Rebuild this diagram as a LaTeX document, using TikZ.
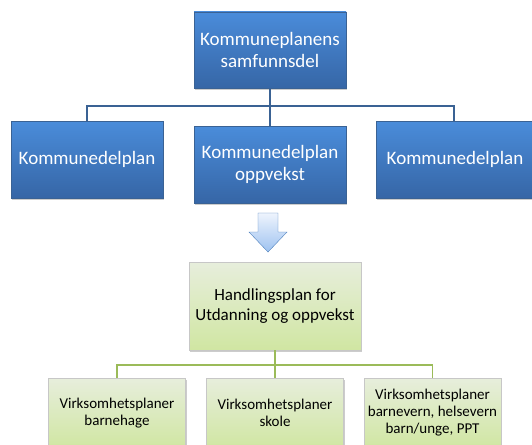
\documentclass[tikz,border=0pt]{standalone}
\usepackage{fontspec}
\setmainfont{Carlito}
\usetikzlibrary{arrows,shapes,shadows}
\definecolor{bluetop}{RGB}{74,140,218}
\definecolor{bluebot}{RGB}{54,102,166}
\definecolor{blueline}{RGB}{58,98,148}
\definecolor{greentop}{RGB}{231,238,220}
\definecolor{greenbot}{RGB}{208,230,162}
\definecolor{greenline}{RGB}{155,187,89}
\definecolor{arrowtop}{RGB}{238,244,253}
\definecolor{arrowbot}{RGB}{158,194,240}
\definecolor{arrowline}{RGB}{79,129,189}
\tikzstyle{plan}=[rectangle, draw=blueline, top color=bluetop, bottom color=bluebot, text=white, minimum width=152pt, minimum height=77pt, align=center, inner sep=2pt, drop shadow={opacity=0.4,shadow xshift=1pt,shadow yshift=-1.5pt}, font=\fontsize{19}{22.5}\selectfont]
\tikzstyle{action}=[plan, draw=black!22, top color=greentop, bottom color=greenbot, text=black, font=\fontsize{17}{19.5}\selectfont]
\tikzstyle{unit}=[action, minimum width=137pt, minimum height=70pt, font=\fontsize{15}{17}\selectfont]
\tikzstyle{tree}=[draw=blueline, line width=1.5pt]
\tikzstyle{greentree}=[draw=greenline, line width=1.5pt]

\begin{document}
\begin{tikzpicture}[x=1pt,y=-1pt]
    \useasboundingbox (0,0) rectangle (532,444);
    \clip (0,0) rectangle (532,444);
    % kommuneplan
    \node[plan, minimum height=76pt] (top) at (270,50) {Kommuneplanens\\samfunnsdel};
    \foreach \pos/\name/\boxw/\text in {{(87,159.5)/left/152/Kommunedelplan}, {(270,164.5)/mid/152/Kommunedelplan\\oppvekst}, {(455,159.5)/right/158/Kommunedelplan}}
        \node[plan, minimum width=\boxw pt] (\name) at \pos {\text};
    \coordinate (bus) at (270,106);
    \path[tree] (top) -- (bus);
    \path[tree] (bus) -- (mid);
    \foreach \name/\xpos in {left/87, right/454}
        \path[tree] (bus) -| (\xpos,106) -- (\name.north -| \xpos,0);
    % pil
    \draw[arrowline, top color=arrowtop, bottom color=arrowbot, line join=miter]
        (258,213) -- (278,213) -- (278,232) -- (287,232) -- (268,252) -- (249,232) -- (258,232) -- cycle;
    % handlingsplan
    \node[action, minimum width=172pt, minimum height=88pt] (hp) at (275,306) {Handlingsplan for\\Utdanning og oppvekst};
    \foreach \pos/\name/\text in {{(117,413)/bhg/{Virksomhetsplaner\\barnehage}}, {(275,413)/skole/{Virksomhetsplaner\\skole}}, {(432.5,413)/ppt/{Virksomhetsplaner\\barnevern, helsevern\\barn/unge, PPT}}}
        \node[unit] (\name) at \pos {\text};
    \coordinate (gbus) at (275,365);
    \path[greentree] (hp) -- (gbus);
    \path[greentree] (gbus) -- (skole);
    \foreach \name in {bhg, ppt}
        \path[greentree] (gbus) -| (\name.north);
\end{tikzpicture}
\end{document}
